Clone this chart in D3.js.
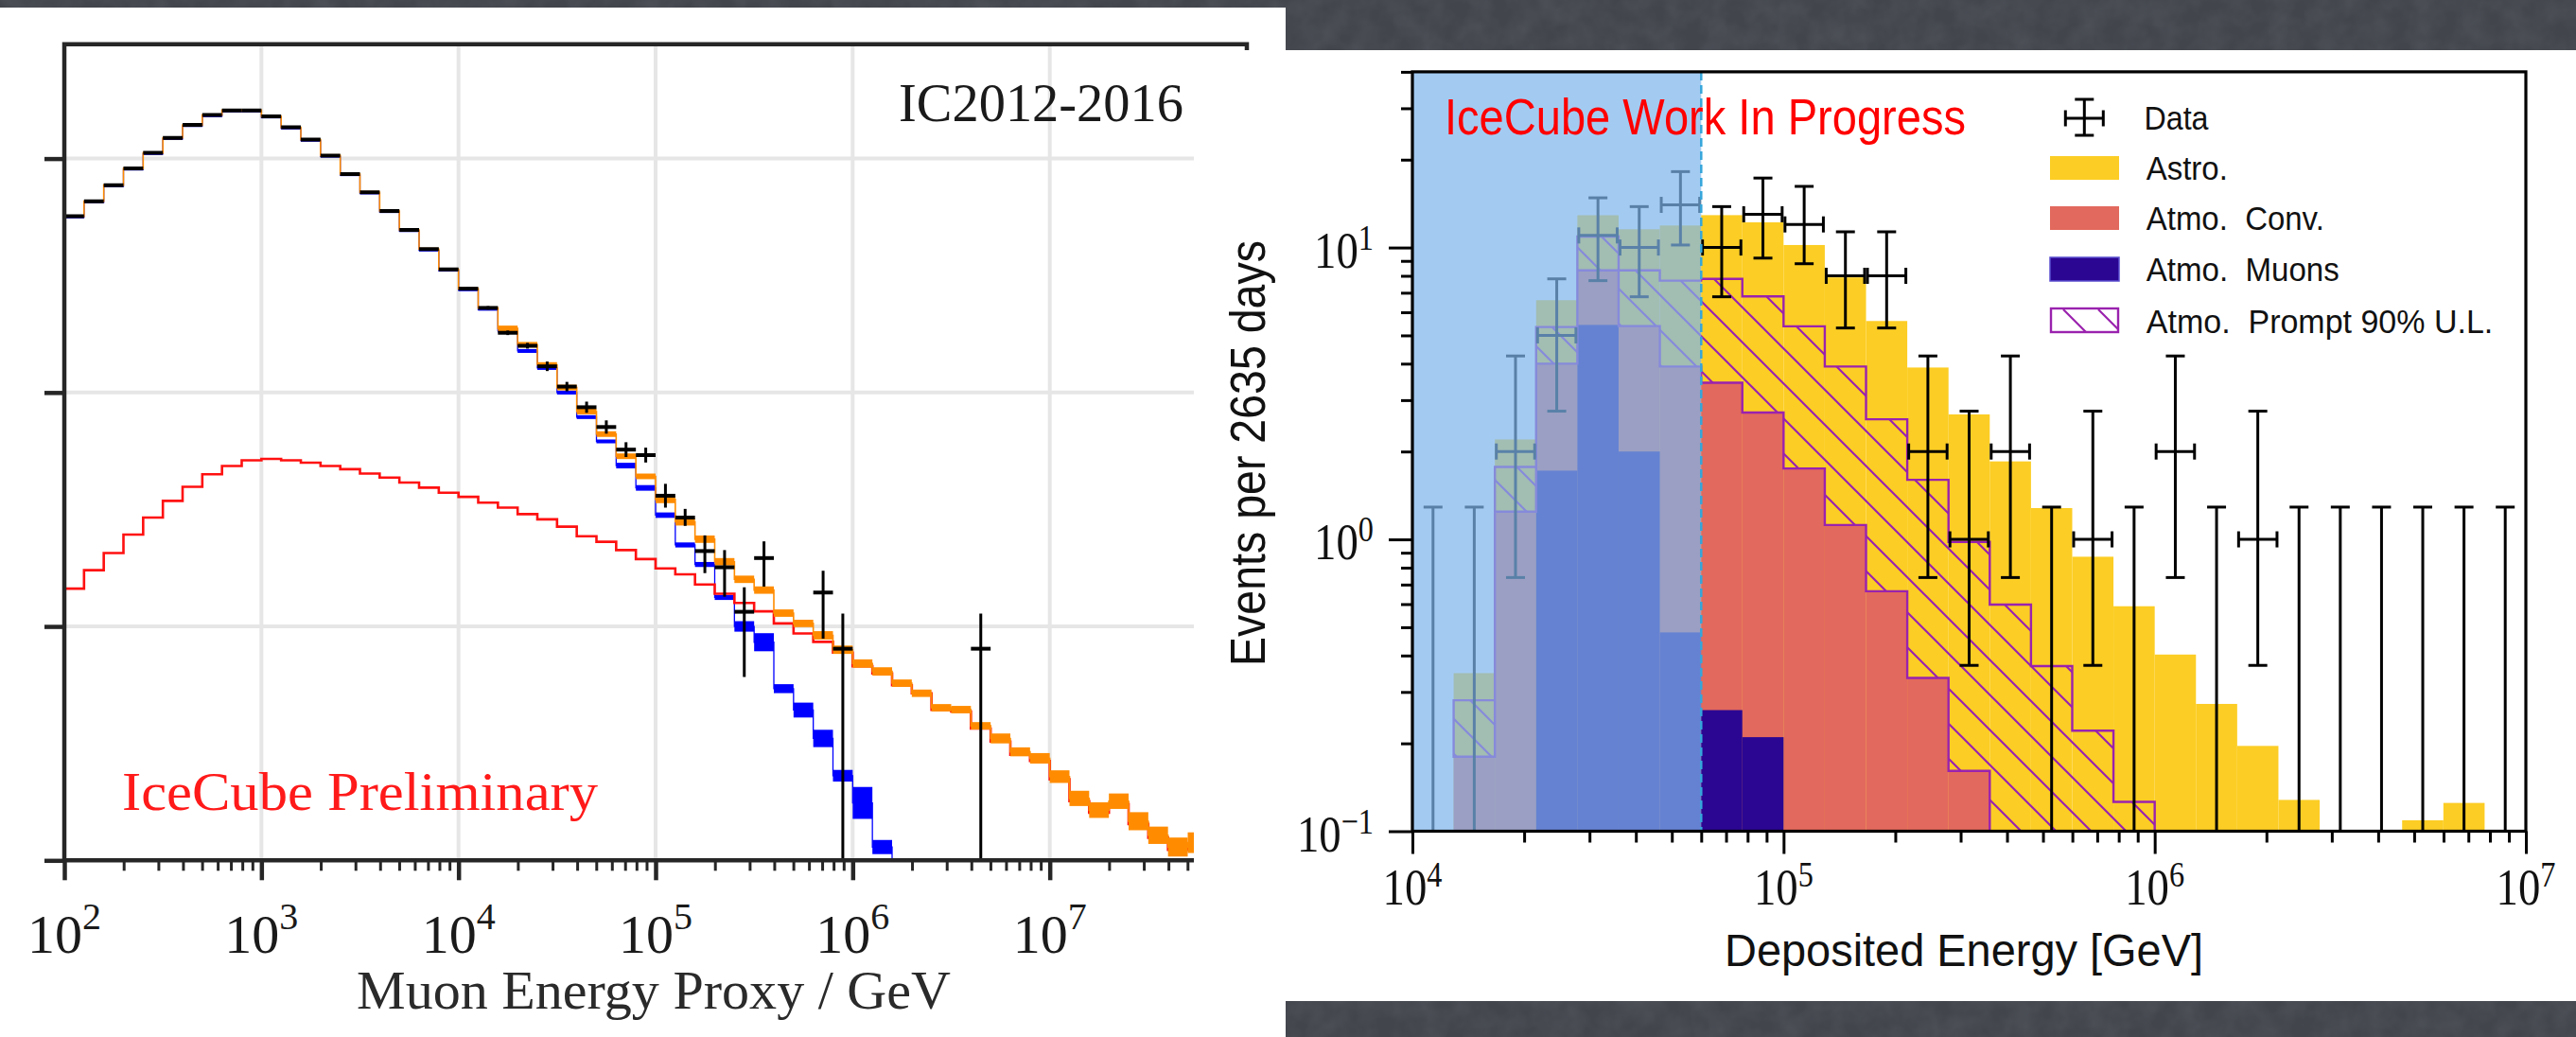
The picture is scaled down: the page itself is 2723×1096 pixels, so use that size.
<!DOCTYPE html>
<html>
<head>
<meta charset="utf-8">
<script src="https://cdn.jsdelivr.net/npm/d3@7"></script>
<style>
  html, body { margin: 0; padding: 0; background: #46494f; }
  svg { display: block; }
</style>
</head>
<body>
<svg id="fig" width="2723" height="1096"></svg>
<script>
// ===================== Left panel: muon energy proxy (IC2012-2016) =====================
// Histogram bins: 10 per decade starting at 10^2 GeV.
const muonLogStart = 2;
const muonBinsPerDecade = 10;

// Observed events per bin (null = empty bin)
const muonData = [566.6, 656.6, 770.2, 907.0, 1057.5, 1225.3, 1392.0, 1535.5, 1607, 1607,
  1515.4, 1360, 1204.7, 1030.2, 858.5, 717.4, 597.0, 495.5, 410.2, 336.0,
  277.8, 229.9, 180.0, 158.4, 129.4, 106.0, 86.5, 71.2, 57.0, 54.0,
  36.2, 29.2, 21.0, 17.9, 11.55, 19.6, null, null, 13.96, 8.03,
  null, null, null, null, null, null, 8.03, null, null, null,
  null, null, null, null, null, null, null, null];
const muonDataLow = [561, 650, 762, 898, 1047, 1213, 1378, 1520, 1591, 1591,
  1500, 1346, 1193, 1020, 850, 710, 591, 490, 405, 332,
  274, 226, 176, 154, 123.5, 101.2, 81.9, 66.7, 53.0, 50.2,
  32.2, 26.9, 16.9, 13.4, 6.08, 14.8, null, null, 8.87, 0,
  null, null, null, null, null, null, 0, null, null, null,
  null, null, null, null, null, null, null, null];
const muonDataHigh = [572, 663, 778, 916, 1068, 1238, 1406, 1551, 1623, 1623,
  1531, 1374, 1217, 1041, 867, 725, 603, 501, 415, 340,
  282, 234, 184, 163, 135.6, 111.0, 91.4, 76.0, 61.3, 58.1,
  40.7, 31.8, 24.5, 21.2, 14.7, 23.1, null, null, 17.3, 11.35,
  null, null, null, null, null, null, 11.35, null, null, null,
  null, null, null, null, null, null, null, null];

// Total expectation (orange) and its band half-width in percent
const muonTotal = [566.6, 656.6, 770.2, 907.0, 1057.5, 1225.3, 1392.0, 1535.5, 1607, 1607,
  1515.4, 1360, 1204.7, 1030.2, 858.5, 717.4, 597.0, 495.5, 410.2, 336.0,
  277.8, 229.9, 187.9, 160, 131.1, 105.0, 82.9, 66.4, 53.4, 43.8,
  34.9, 28.0, 23.6, 18.9, 15.9, 14.3, 11.4, 10.3, 9.16, 7.95,
  6.94, 6.42, 5.72, 5.18, 4.49, 4.41, 3.76, 3.32, 2.91, 2.73,
  2.28, 1.84, 1.64, 1.79, 1.47, 1.28, 1.14, 1.19];
const muonTotalErrPct = [1.4, 1.4, 1.4, 1.4, 1.4, 1.4, 1.4, 1.4, 1.4, 1.4,
  1.4, 1.4, 1.4, 1.4, 1.4, 1.4, 1.4, 1.4, 1.4, 1.4,
  1.4, 1.4, 2.8, 2.8, 2.8, 2.8, 2.8, 2.8, 2.8, 2.8,
  3.7, 3.7, 3.7, 3.7, 3.7, 3.7, 3.7, 3.7, 4.2, 4.2,
  4.2, 4.2, 3.7, 3.7, 3.7, 3.7, 3.7, 5.0, 4.5, 5.3,
  6.4, 7.8, 8.0, 7.9, 9.3, 8.9, 9.8, 10.7];

// Conventional atmospheric expectation (blue) and band half-width in percent
const muonConv = [561, 650, 762, 898, 1047, 1213, 1378, 1520, 1591, 1591,
  1500, 1346, 1193, 1020, 850, 710, 591, 490, 405, 332,
  274, 226, 183.6, 150.5, 127.3, 99.9, 78.5, 61.8, 48.7, 39.1,
  29.9, 22.3, 18.4, 13.3, 10.0, 8.56, 5.42, 4.39, 3.32, 2.30,
  1.76, 1.14];
const muonConvErrPct = [1, 1, 1, 1, 1, 1, 1, 1, 1, 1,
  1, 1, 1, 1, 1, 1, 1, 1, 1, 1,
  1, 1, 1.9, 1.9, 1.9, 1.9, 1.9, 1.9, 2.8, 2.8,
  2.7, 2.5, 2.5, 2.5, 5.3, 9.3, 4.5, 7.6, 8.9, 5.9,
  17, 7.2];

// Astrophysical expectation (red line)
const muonAstro = [14.5, 17.4, 20.6, 24.7, 29.2, 34.4, 39.5, 44.7, 48.5, 51.3,
  52.0, 51.3, 50.1, 48.5, 47.0, 45.0, 43.3, 41.2, 39.2, 37.3,
  35.8, 33.8, 32.2, 30.2, 28.7, 26.7, 24.3, 23.0, 21.2, 19.4,
  17.7, 16.7, 15.1, 13.8, 12.6, 11.6, 10.3, 9.33, 8.59, 7.73,
  6.76, 6.30, 5.60, 5.18, 4.40, 4.33, 3.66, 3.22, 2.83, 2.66,
  2.22, 1.79, 1.60, 1.74, 1.43, 1.25, 1.11, 1.16];

const muonTickExps = [2, 3, 4, 5, 6, 7];

// ===================== Right panel: deposited energy =====================
// 9 bins per decade from 10^4 to 10^7 GeV
const cascLogStart = 4;
const cascBinsPerDecade = 9;
const vetoThreshold = 6e4; // below this energy the sample is shaded out

const cascData = [0, 0, 2, 5, 11, 10, 14, 10, 13, 12, 8, 8, 2, 1, 2, 0, 1, 0, 2, 0, 1, 0, 0, 0, 0, 0, 0];
const cascErrLow = [0, 0, 0.74, 2.75, 7.7, 6.78, 10.2, 6.78, 9.2, 8.8, 5.3, 5.3, 0.74, 0.37, 0.74, 0, 0.37, 0, 0.74, 0, 0.37, 0, 0, 0, 0, 0, 0];
const cascErrHigh = [1.29, 1.29, 4.25, 7.81, 14.8, 13.81, 18.2, 13.81, 17.3, 16.2, 11.32, 11.32, 4.25, 2.75, 4.25, 1.29, 2.75, 1.29, 4.25, 1.29, 2.75, 1.29, 1.29, 1.29, 1.29, 1.29, 1.29];

const atmoMuons  = [0, 0, 0, 1.72, 5.43, 2.0, 0.48, 0.26, 0.21, 0, 0, 0, 0, 0, 0, 0, 0, 0, 0, 0, 0, 0, 0, 0, 0, 0, 0];
const atmoConv   = [0, 0.18, 1.245, 2.28, 2.92, 3.38, 3.43, 3.18, 2.51, 1.75, 1.12, 0.664, 0.335, 0.161, 0, 0, 0, 0, 0, 0, 0, 0, 0, 0, 0, 0, 0];
const atmoPrompt = [0, 0.101, 0.525, 1.34, 2.55, 2.97, 3.79, 4.37, 4.08, 3.62, 2.79, 1.916, 1.265, 0.819, 0.598, 0.368, 0.221, 0.126, 0, 0, 0, 0, 0, 0, 0, 0, 0];
const astroFlux  = [0, 0.067, 0.43, 1.26, 2.0, 3.2, 4.2, 5.1, 5.4, 4.83, 3.99, 3.02, 2.28, 1.70, 1.252, 0.912, 0.651, 0.464, 0.403, 0.273, 0.196, 0.128, 0, 0, 0.109, 0.125, 0];

const legendLabels = ["Data", "Astro.", "Atmo.\u00a0 Conv.", "Atmo.\u00a0 Muons", "Atmo.\u00a0 Prompt 90% U.L."];
const cascXTickExps = [4, 5, 6, 7];
const cascYTickExps = [-1, 0, 1];

// ===================== drawing =====================
const W = 2723, H = 1096;
const serif = "'Liberation Serif','Times New Roman',serif";
const sans = "'Liberation Sans',Arial,sans-serif";
const svg = d3.select('#fig');
const defs = svg.append('defs');

// slate slide background with a faint mottled texture
const tex = defs.append('filter').attr('id', 'slate').attr('x', 0).attr('y', 0).attr('width', '100%').attr('height', '100%');
tex.append('feTurbulence').attr('type', 'fractalNoise').attr('baseFrequency', 0.04).attr('numOctaves', 3).attr('seed', 7);
tex.append('feColorMatrix').attr('type', 'matrix')
  .attr('values', '0 0 0 0 0.36  0 0 0 0 0.38  0 0 0 0 0.42  0 0 0 0.18 -0.05');
svg.append('rect').attr('width', W).attr('height', H).attr('fill', '#42454c');
svg.append('rect').attr('width', W).attr('height', H).attr('filter', 'url(#slate)');
svg.append('rect').attr('x', 0).attr('y', 8).attr('width', 1359).attr('height', H - 8).attr('fill', '#fff');

// ---------- left figure ----------
const L = svg.append('g');
const xL = d3.scaleLog().domain([1e2, 1e8]).range([68, 1318]);
const yL = d3.scaleLog().domain([1, Math.pow(10, 3.489)]).range([909.3, 46.7]);
const nL = muonTotal.length;
const edgesL = d3.range(nL + 1).map(k => Math.pow(10, muonLogStart + k / muonBinsPerDecade));
const centersL = d3.range(nL).map(k => Math.pow(10, muonLogStart + (k + 0.5) / muonBinsPerDecade));
const yL0 = yL.range()[0], yL1 = yL.range()[1];

defs.append('clipPath').attr('id', 'clipL').append('rect')
  .attr('x', 68).attr('y', yL1).attr('width', 1250).attr('height', yL0 - yL1);

// grid
const gridL = L.append('g').attr('stroke', '#e6e6e6').attr('stroke-width', 4);
[1e3, 1e4, 1e5, 1e6, 1e7].forEach(v => gridL.append('line')
  .attr('x1', xL(v)).attr('x2', xL(v)).attr('y1', yL1).attr('y2', yL0));
[10, 100, 1000].forEach(v => gridL.append('line')
  .attr('x1', 68).attr('x2', 1318).attr('y1', yL(v)).attr('y2', yL(v)));

const plotL = L.append('g').attr('clip-path', 'url(#clipL)');
const stepL = d3.line().curve(d3.curveStepAfter).x(d => xL(d[0])).y(d => yL(Math.max(d[1], 1)));

function bandRects(g, vals, pct, color, minH) {
  vals.forEach((v, i) => {
    if (v == null) return;
    const p = pct[i] / 100;
    let yTop = yL(v * (1 + p)), yBot = yL(v / (1 + p));
    const mid = yL(v);
    yTop = Math.min(yTop, mid - minH / 2);
    yBot = Math.max(yBot, mid + minH / 2);
    g.append('rect').attr('x', xL(edgesL[i])).attr('width', xL(edgesL[i + 1]) - xL(edgesL[i]))
      .attr('y', yTop).attr('height', yBot - yTop).attr('fill', color);
  });
}
function stepPts(vals, dropToFloor) {
  const pts = [];
  vals.forEach((v, i) => { if (v != null) pts.push([edgesL[i], v]); });
  const last = vals.length - 1;
  pts.push([edgesL[last + 1], vals[last]]);
  if (dropToFloor) pts.push([edgesL[last + 1], 1]);
  return pts;
}

// conventional atmospheric (blue)
bandRects(plotL, muonConv, muonConvErrPct, '#0000ff', 2);
plotL.append('path').attr('d', stepL(stepPts(muonConv, true)))
  .attr('fill', 'none').attr('stroke', '#0000ff').attr('stroke-width', 1.3);
// astrophysical (red)
plotL.append('path').attr('d', stepL(stepPts(muonAstro, false)))
  .attr('fill', 'none').attr('stroke', '#ff1010').attr('stroke-width', 2.6);
// total (orange)
bandRects(plotL, muonTotal, muonTotalErrPct, '#ff8c00', 3);
plotL.append('path').attr('d', stepL(stepPts(muonTotal, false)))
  .attr('fill', 'none').attr('stroke', '#ff8c00').attr('stroke-width', 1.6);
// data
const dataL = plotL.append('g').attr('stroke', '#000');
muonData.forEach((v, i) => {
  if (v == null) return;
  const cx = xL(centersL[i]);
  dataL.append('line').attr('x1', xL(edgesL[i])).attr('x2', xL(edgesL[i + 1]))
    .attr('y1', yL(v)).attr('y2', yL(v)).attr('stroke-width', 4);
  const lo = muonDataLow[i] > 0 ? yL(muonDataLow[i]) : yL0;
  dataL.append('line').attr('x1', cx).attr('x2', cx)
    .attr('y1', lo).attr('y2', yL(muonDataHigh[i])).attr('stroke-width', 3);
});

// axes of the left figure
const axCol = '#262626';
const minorL = [];
for (let e = 2; e < 8; e++) for (let m = 2; m <= 9; m++) minorL.push(m * Math.pow(10, e));
const xAxL = L.append('g').attr('transform', `translate(0,${yL0})`)
  .call(d3.axisBottom(xL).tickValues(d3.range(2, 9).map(e => Math.pow(10, e))).tickSize(21).tickFormat(''));
const xAxLm = L.append('g').attr('transform', `translate(0,${yL0})`)
  .call(d3.axisBottom(xL).tickValues(minorL).tickSize(11).tickFormat(''));
const yAxL = L.append('g').attr('transform', 'translate(68,0)')
  .call(d3.axisLeft(yL).tickValues([1, 10, 100, 1000]).tickSize(21).tickFormat(''));
[xAxL, xAxLm, yAxL].forEach(g => { g.select('.domain').remove(); g.attr('color', axCol); });
xAxL.selectAll('line').attr('stroke-width', 4.5);
yAxL.selectAll('line').attr('stroke-width', 4.5);
xAxLm.selectAll('line').attr('stroke-width', 3);
L.append('path')
  .attr('d', `M68,${yL0} L68,${yL1} L1318,${yL1} L1318,${yL0} M68,${yL0} L1318,${yL0}`)
  .attr('fill', 'none').attr('stroke', axCol).attr('stroke-width', 4.5);

// tick labels
muonTickExps.forEach(e => {
  const t = L.append('text').attr('x', xL(Math.pow(10, e))).attr('y', 1007)
    .attr('text-anchor', 'middle').attr('font-family', serif).attr('font-size', 58).attr('fill', '#1a1a1a');
  t.append('tspan').text('10');
  t.append('tspan').attr('dy', -25).attr('font-size', 40).text(String(e));
});
L.append('text').attr('x', 691).attr('y', 1066).attr('text-anchor', 'middle')
  .attr('font-family', serif).attr('font-size', 57).attr('fill', '#2a2a2a')
  .attr('textLength', 628).attr('lengthAdjust', 'spacingAndGlyphs')
  .text('Muon Energy Proxy / GeV');
L.append('text').attr('x', 1251).attr('y', 128).attr('text-anchor', 'end')
  .attr('font-family', serif).attr('font-size', 58).attr('fill', '#1a1a1a')
  .attr('textLength', 301).attr('lengthAdjust', 'spacingAndGlyphs')
  .text('IC2012-2016');
L.append('text').attr('x', 129).attr('y', 856)
  .attr('font-family', serif).attr('font-size', 58).attr('fill', '#ff1a1a')
  .attr('textLength', 503).attr('lengthAdjust', 'spacingAndGlyphs')
  .text('IceCube Preliminary');

// ---------- right figure ----------
svg.append('rect').attr('x', 1262).attr('y', 53).attr('width', W - 1262).attr('height', 1005).attr('fill', '#fff');
const R = svg.append('g');
const xR = d3.scaleLog().domain([1e4, 1e7]).range([1493, 2670]);
const yR = d3.scaleLog().domain([0.1, 40]).range([878.5, 75.9]);
const yR0 = yR.range()[0], yR1 = yR.range()[1];
const nR = cascData.length;
const edgesR = d3.range(nR + 1).map(k => Math.pow(10, cascLogStart + k / cascBinsPerDecade));
const centersR = d3.range(nR).map(k => Math.pow(10, cascLogStart + (k + 0.5) / cascBinsPerDecade));
const yClamp = v => (v > 0.1 ? yR(v) : yR0);

const rows = d3.range(nR).map(i => ({
  muons: atmoMuons[i], conv: atmoConv[i], prompt: atmoPrompt[i], astro: astroFlux[i]
}));
const stacked = d3.stack().keys(['muons', 'conv', 'prompt', 'astro'])(rows);
const stackTop = key => stacked.find(s => s.key === key).map(d => d[1]);
const totalTop = stackTop('astro'), promptTop = stackTop('prompt'), convTop = stackTop('conv'), muonTop = stackTop('muons');

// hatch pattern for the prompt upper limit
const hatch = defs.append('pattern').attr('id', 'hatch').attr('patternUnits', 'userSpaceOnUse')
  .attr('width', 37).attr('height', 37);
hatch.append('path').attr('d', 'M-5,-5 L42,42 M-5,32 L5,42 M32,-5 L42,5')
  .attr('stroke', '#9a22ae').attr('stroke-width', 2.2).attr('fill', 'none');

const colAstro = '#fccd24', colConv = '#e2695d', colMuon = '#2b0692', colPrompt = '#9a22ae';
function binRects(g, tops, color) {
  tops.forEach((v, i) => {
    if (!(v > 0.1)) return;
    g.append('rect').attr('x', xR(edgesR[i])).attr('width', xR(edgesR[i + 1]) - xR(edgesR[i]))
      .attr('y', yR(v)).attr('height', yR0 - yR(v)).attr('fill', color);
  });
}
const hist = R.append('g');
binRects(hist, totalTop, colAstro);
binRects(hist, convTop, colConv);
binRects(hist, muonTop, colMuon);

// prompt region: outlined, hatched step polygon between conv top and prompt top
const promptBins = d3.range(nR).filter(i => atmoPrompt[i] > 0);
let pd = '';
promptBins.forEach((i, k) => {
  pd += (k === 0 ? 'M' : 'L') + xR(edgesR[i]) + ',' + yClamp(promptTop[i]) + ' L' + xR(edgesR[i + 1]) + ',' + yClamp(promptTop[i]) + ' ';
});
promptBins.slice().reverse().forEach(i => {
  pd += 'L' + xR(edgesR[i + 1]) + ',' + yClamp(convTop[i]) + ' L' + xR(edgesR[i]) + ',' + yClamp(convTop[i]) + ' ';
});
pd += 'Z';
hist.append('path').attr('d', pd).attr('fill', 'url(#hatch)')
  .attr('stroke', colPrompt).attr('stroke-width', 2.4).attr('stroke-linejoin', 'miter');

// data with Feldman-Cousins intervals
const dataR = R.append('g').attr('stroke', '#000').attr('stroke-width', 3);
cascData.forEach((n, i) => {
  const cx = xR(centersR[i]);
  const yHi = yR(cascErrHigh[i]);
  const yLo = cascErrLow[i] > 0 ? yR(cascErrLow[i]) : yR0;
  dataR.append('line').attr('x1', cx).attr('x2', cx).attr('y1', yLo).attr('y2', yHi);
  dataR.append('line').attr('x1', cx - 10).attr('x2', cx + 10).attr('y1', yHi).attr('y2', yHi);
  if (n > 0) {
    const y = yR(n), xa = xR(edgesR[i]) + 1.5, xb = xR(edgesR[i + 1]) - 1.5;
    dataR.append('line').attr('x1', cx - 10).attr('x2', cx + 10).attr('y1', yLo).attr('y2', yLo);
    dataR.append('line').attr('x1', xa).attr('x2', xb).attr('y1', y).attr('y2', y);
    dataR.append('line').attr('x1', xa).attr('x2', xa).attr('y1', y - 8.5).attr('y2', y + 8.5);
    dataR.append('line').attr('x1', xb).attr('x2', xb).attr('y1', y - 8.5).attr('y2', y + 8.5);
  }
});

// shaded low-energy region and its boundary
R.append('rect').attr('x', xR(1e4)).attr('y', yR1).attr('width', xR(vetoThreshold) - xR(1e4))
  .attr('height', yR0 - yR1).attr('fill', 'rgb(125,182,237)').attr('fill-opacity', 0.71);
R.append('line').attr('x1', xR(vetoThreshold)).attr('x2', xR(vetoThreshold)).attr('y1', yR1).attr('y2', yR0)
  .attr('stroke', '#35a6da').attr('stroke-width', 2.5).attr('stroke-dasharray', '9,5');

R.append('text').attr('x', 1527).attr('y', 141.7)
  .attr('font-family', sans).attr('font-size', 53).attr('fill', '#ff0000')
  .attr('textLength', 551).attr('lengthAdjust', 'spacingAndGlyphs')
  .text('IceCube Work In Progress');

// legend
const leg = R.append('g');
const lx = 2167, lw = 73, tx = 2268.8;
const rowsY = [137.3, 190, 243, 297, 352];
const legWidths = [68, 86, 188, 204, 366.5];
{
  const cx = 2203.3, cy = 125;
  const g = leg.append('g').attr('stroke', '#000').attr('stroke-width', 3);
  g.append('line').attr('x1', cx).attr('x2', cx).attr('y1', cy - 20).attr('y2', cy + 18);
  g.append('line').attr('x1', cx - 10).attr('x2', cx + 10).attr('y1', cy - 20).attr('y2', cy - 20);
  g.append('line').attr('x1', cx - 10).attr('x2', cx + 10).attr('y1', cy + 18).attr('y2', cy + 18);
  g.append('line').attr('x1', cx - 20).attr('x2', cx + 20).attr('y1', cy).attr('y2', cy);
  g.append('line').attr('x1', cx - 20).attr('x2', cx - 20).attr('y1', cy - 8.5).attr('y2', cy + 8.5);
  g.append('line').attr('x1', cx + 20).attr('x2', cx + 20).attr('y1', cy - 8.5).attr('y2', cy + 8.5);
}
[[colAstro, null], [colConv, null], [colMuon, '#5b4fd0']].forEach((c, k) => {
  const y = rowsY[k + 1];
  leg.append('rect').attr('x', lx).attr('y', y - 25).attr('width', lw).attr('height', 25)
    .attr('fill', c[0]).attr('stroke', c[1] || 'none').attr('stroke-width', 1.5);
});
leg.append('rect').attr('x', lx + 1).attr('y', rowsY[4] - 26).attr('width', lw - 2).attr('height', 25)
  .attr('fill', '#fff').attr('stroke', colPrompt).attr('stroke-width', 2.4);
leg.append('path').attr('d', `M${lx + 14},${rowsY[4] - 25} L${lx + 38},${rowsY[4] - 1} M${lx + 51},${rowsY[4] - 25} L${lx + 72},${rowsY[4] - 4}`)
  .attr('stroke', colPrompt).attr('stroke-width', 2.2);
legendLabels.forEach((s, k) => {
  leg.append('text').attr('x', k === 0 ? 2266.5 : tx).attr('y', rowsY[k])
    .attr('font-family', sans).attr('font-size', 35).attr('fill', '#111')
    .attr('textLength', legWidths[k]).attr('lengthAdjust', 'spacingAndGlyphs').text(s);
});

// frame and ticks
const minorRx = [], minorRy = [];
for (let e = 4; e < 7; e++) for (let m = 2; m <= 9; m++) minorRx.push(m * Math.pow(10, e));
for (let e = -1; e < 2; e++) for (let m = 2; m <= 9; m++) { const v = m * Math.pow(10, e); if (v <= 40) minorRy.push(v); }
const axR = [
  R.append('g').attr('transform', `translate(0,${yR0})`).call(d3.axisBottom(xR).tickValues(cascXTickExps.map(e => Math.pow(10, e))).tickSize(24).tickFormat('')),
  R.append('g').attr('transform', `translate(0,${yR0})`).call(d3.axisBottom(xR).tickValues(minorRx).tickSize(12).tickFormat('')),
  R.append('g').attr('transform', 'translate(1493,0)').call(d3.axisLeft(yR).tickValues(cascYTickExps.map(e => Math.pow(10, e))).tickSize(25).tickFormat('')),
  R.append('g').attr('transform', 'translate(1493,0)').call(d3.axisLeft(yR).tickValues(minorRy).tickSize(12).tickFormat(''))
];
axR.forEach(g => { g.select('.domain').remove(); g.attr('color', '#000'); g.selectAll('line').attr('stroke-width', 3); });
R.append('rect').attr('x', 1493).attr('y', yR1).attr('width', 2670 - 1493).attr('height', yR0 - yR1)
  .attr('fill', 'none').attr('stroke', '#000').attr('stroke-width', 3.2);

function powText(g, x, y, exp, anchor) {
  const t = g.append('g').attr('transform', `translate(${x},${y}) scale(0.85,1)`)
    .append('text').attr('text-anchor', anchor).attr('font-family', serif).attr('font-size', 55).attr('fill', '#111');
  t.append('tspan').text('10');
  t.append('tspan').attr('dy', -19).attr('font-size', 38).text(exp < 0 ? '\u2212' + (-exp) : String(exp));
}
cascXTickExps.forEach(e => powText(R, xR(Math.pow(10, e)), 956, e, 'middle'));
cascYTickExps.forEach(e => powText(R, 1452, yR(Math.pow(10, e)) + 21, e, 'end'));

R.append('text').attr('transform', 'translate(1337,479) rotate(-90)').attr('text-anchor', 'middle')
  .attr('font-family', sans).attr('font-size', 51).attr('fill', '#111')
  .attr('textLength', 450).attr('lengthAdjust', 'spacingAndGlyphs')
  .text('Events per 2635 days');
R.append('text').attr('x', 2076).attr('y', 1021).attr('text-anchor', 'middle')
  .attr('font-family', sans).attr('font-size', 49).attr('fill', '#111')
  .attr('textLength', 506).attr('lengthAdjust', 'spacingAndGlyphs')
  .text('Deposited Energy [GeV]');
</script>
</body>
</html>
